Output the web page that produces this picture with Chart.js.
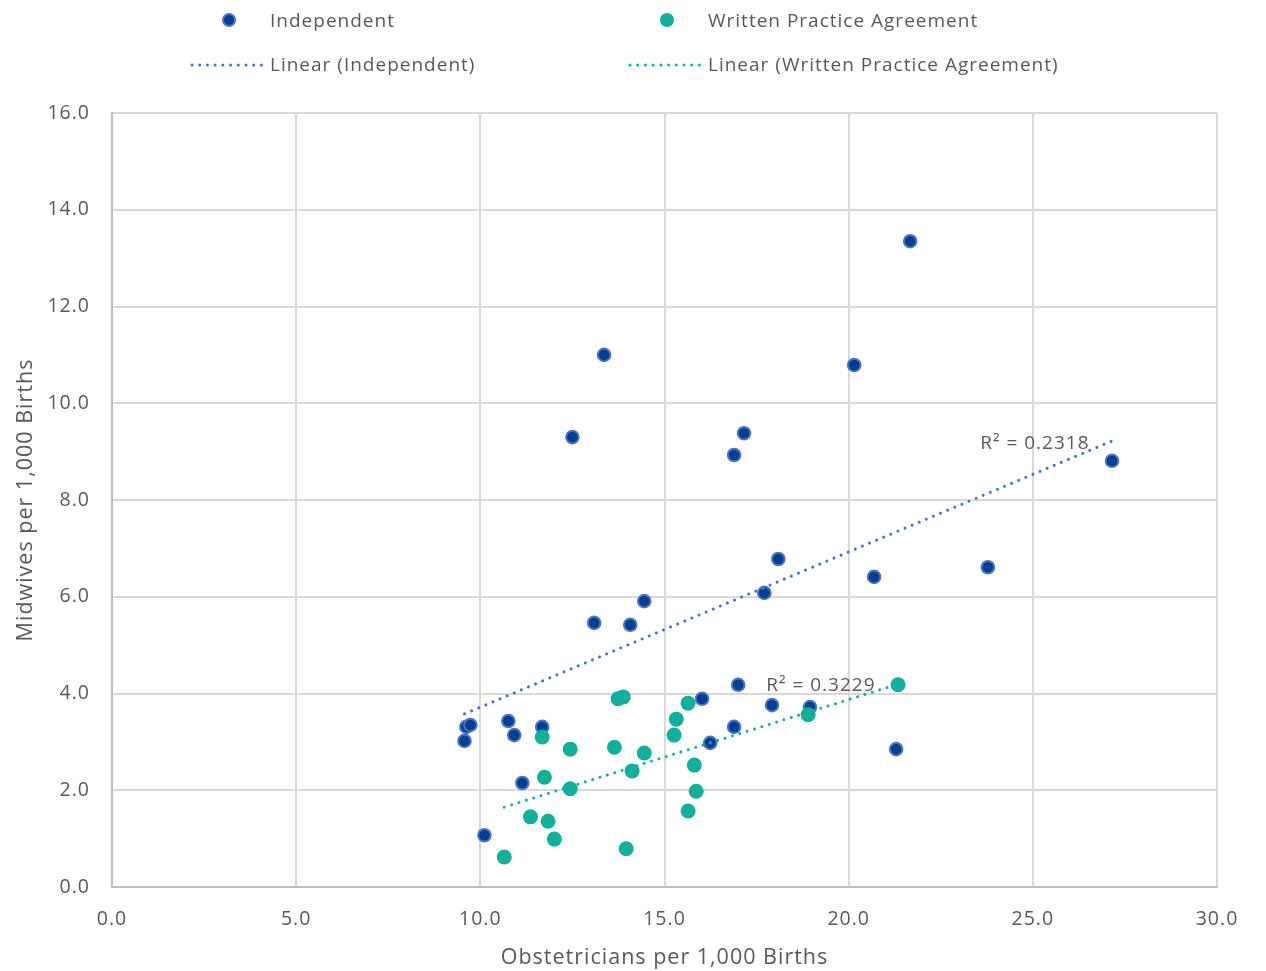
<!DOCTYPE html>
<html>
<head>
<meta charset="utf-8">
<script src="https://cdn.jsdelivr.net/npm/chart.js@4/dist/chart.umd.min.js"></script>
<style>
  html, body { margin: 0; padding: 0; background: #fff; }
  #wrap { width: 1266px; height: 971px; }
</style>
</head>
<body>
<div id="wrap"><canvas id="chart"></canvas></div>
<script>
// Independent
const indX = [21.67, 13.36, 20.15, 12.50, 17.16, 16.89, 27.15, 18.09, 20.69, 23.78,
              17.71, 14.45, 13.09, 14.07, 17.00, 16.02, 17.92, 18.95, 16.89, 16.24,
              21.29, 9.62, 9.73, 9.57, 10.76, 10.92, 11.68, 11.14, 10.11];
const indY = [13.35, 11.00, 10.79, 9.30, 9.38, 8.93, 8.81, 6.78, 6.41, 6.61,
              6.08, 5.91, 5.46, 5.42, 4.18, 3.89, 3.76, 3.72, 3.31, 2.98,
              2.85, 3.31, 3.35, 3.02, 3.43, 3.14, 3.31, 2.15, 1.07];

// Written Practice Agreement
const wpaX = [11.68, 12.44, 13.64, 13.74, 13.88, 14.45, 14.12, 11.74, 12.44, 11.36,
              11.84, 12.01, 10.65, 13.96, 15.64, 15.32, 15.26, 15.81, 15.86, 15.64,
              18.90, 21.34];
const wpaY = [3.10, 2.85, 2.89, 3.89, 3.93, 2.77, 2.40, 2.27, 2.03, 1.45,
              1.36, 0.99, 0.62, 0.79, 3.80, 3.47, 3.14, 2.52, 1.98, 1.57,
              3.56, 4.18];

// trendline end points
const indTrendX = [9.57, 27.15];
const indTrendY = [3.58, 9.22];
const wpaTrendX = [10.65, 21.2];
const wpaTrendY = [1.65, 4.16];

const r2Text = ['R² = 0.2318', 'R² = 0.3229'];

const xTicks = [0, 5, 10, 15, 20, 25, 30];
const yTicks = [0, 2, 4, 6, 8, 10, 12, 14, 16];

const BLUE = '#003f91';
const BLUE_RING = '#4a72c6';
const GREEN = '#10b09b';
const TREND_BLUE = '#4472c4';
const TEXT = '#595959';
const FONT = '"Open Sans", "Noto Sans", sans-serif';

function toPoints(xs, ys) {
    return xs.map((x, i) => ({ x: x, y: ys[i] }));
}

// Excel-ish spaced text
function spacing(chart) {
    chart.ctx.letterSpacing = '1px';
}

const extras = {
    id: 'extras',
    beforeLayout: spacing,
    beforeDraw: spacing,
    afterDraw(chart) {
        const ctx = chart.ctx;
        const xs = chart.scales.x, ys = chart.scales.y;
        ctx.save();
        ctx.letterSpacing = '1px';
        // R² labels
        ctx.font = '19px ' + FONT;
        ctx.fillStyle = TEXT;
        ctx.textBaseline = 'middle';
        ctx.textAlign = 'left';
        ctx.fillText(r2Text[0], xs.getPixelForValue(23.57), ys.getPixelForValue(9.16));
        ctx.fillText(r2Text[1], xs.getPixelForValue(17.76), ys.getPixelForValue(4.16));

        // legend
        ctx.font = '19px ' + FONT;
        ctx.fillText('Independent', 270, 21.5);
        ctx.fillText('Written Practice Agreement', 708, 21.5);
        ctx.fillText('Linear (Independent)', 270, 66);
        ctx.fillText('Linear (Written Practice Agreement)', 708, 66);

        ctx.beginPath();
        ctx.arc(229, 20, 6, 0, Math.PI * 2);
        ctx.fillStyle = BLUE;
        ctx.fill();
        ctx.lineWidth = 2;
        ctx.strokeStyle = BLUE_RING;
        ctx.stroke();

        ctx.beginPath();
        ctx.arc(667, 20, 7, 0, Math.PI * 2);
        ctx.fillStyle = GREEN;
        ctx.fill();

        ctx.lineWidth = 3;
        ctx.lineCap = 'round';
        ctx.setLineDash([0.01, 7.7]);
        ctx.strokeStyle = TREND_BLUE;
        ctx.beginPath();
        ctx.moveTo(192, 65);
        ctx.lineTo(262, 65);
        ctx.stroke();
        ctx.strokeStyle = GREEN;
        ctx.beginPath();
        ctx.moveTo(630, 65);
        ctx.lineTo(700, 65);
        ctx.stroke();
        ctx.restore();
    }
};

new Chart(document.getElementById('chart'), {
    type: 'scatter',
    data: {
        datasets: [
            {
                label: 'Linear (Independent)',
                type: 'line',
                data: toPoints(indTrendX, indTrendY),
                borderColor: TREND_BLUE,
                borderWidth: 3,
                borderDash: [0.01, 7.7],
                borderCapStyle: 'round',
                pointRadius: 0,
                fill: false,
                order: 0
            },
            {
                label: 'Linear (Written Practice Agreement)',
                type: 'line',
                data: toPoints(wpaTrendX, wpaTrendY),
                borderColor: GREEN,
                borderWidth: 3,
                borderDash: [0.01, 7.7],
                borderCapStyle: 'round',
                pointRadius: 0,
                fill: false,
                order: 0
            },
            {
                label: 'Written Practice Agreement',
                data: toPoints(wpaX, wpaY),
                backgroundColor: GREEN,
                borderColor: GREEN,
                borderWidth: 0,
                pointRadius: 7.5,
                order: 1
            },
            {
                label: 'Independent',
                data: toPoints(indX, indY),
                backgroundColor: BLUE,
                borderColor: BLUE_RING,
                borderWidth: 2,
                pointRadius: 6.3,
                order: 2
            }
        ]
    },
    options: {
        responsive: true,
        maintainAspectRatio: false,
        animation: false,
        layout: { padding: { top: 113, right: 49, left: 0, bottom: 0 } },
        plugins: {
            legend: { display: false },
            tooltip: { enabled: false }
        },
        scales: {
            x: {
                type: 'linear',
                min: 0,
                max: 30,
                afterFit: s => { s.height = 84; },
                afterBuildTicks: s => { s.ticks = xTicks.map(v => ({ value: v })); },
                grid: { color: '#d9d9d9', lineWidth: 2, drawTicks: false },
                border: { color: '#bfbfbf', width: 2 },
                ticks: {
                    padding: 21,
                    color: TEXT,
                    font: { family: FONT, size: 19.5 },
                    callback: v => v.toFixed(1)
                },
                title: {
                    display: true,
                    text: 'Obstetricians per 1,000 Births',
                    color: TEXT,
                    font: { family: FONT, size: 21.5 },
                    padding: { top: 0, bottom: 0 }
                }
            },
            y: {
                type: 'linear',
                min: 0,
                max: 16,
                afterFit: s => { s.width = 112; },
                afterBuildTicks: s => { s.ticks = yTicks.map(v => ({ value: v })); },
                grid: { color: '#d9d9d9', lineWidth: 2, drawTicks: false },
                border: { color: '#bfbfbf', width: 2 },
                ticks: {
                    padding: 22,
                    color: TEXT,
                    font: { family: FONT, size: 19.5 },
                    callback: v => v.toFixed(1)
                },
                title: {
                    display: true,
                    text: 'Midwives per 1,000 Births',
                    color: TEXT,
                    font: { family: FONT, size: 21.5 },
                    padding: { top: 13, bottom: 0 }
                }
            }
        }
    },
    plugins: [extras]
});
</script>
</body>
</html>
